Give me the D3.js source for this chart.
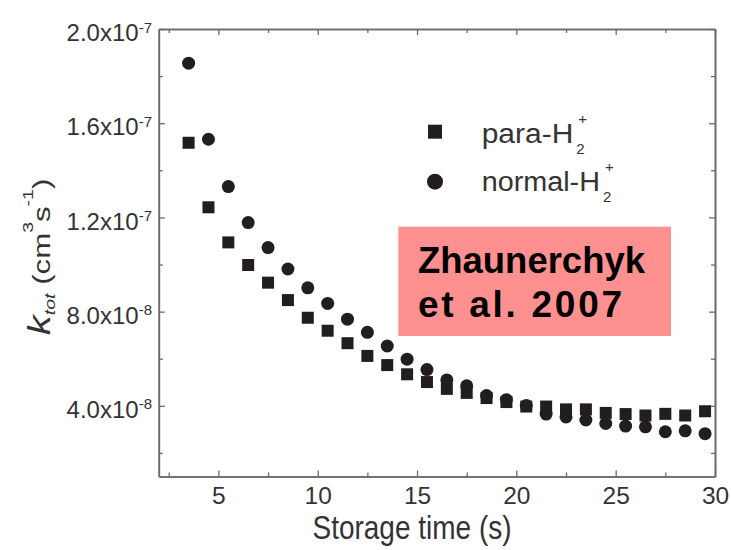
<!DOCTYPE html>
<html>
<head>
<meta charset="utf-8">
<script src="https://cdn.jsdelivr.net/npm/d3@7"></script>
<style>
  html, body { margin: 0; padding: 0; background: #fff; }
  svg { display: block; }
  text { font-family: "Liberation Sans", Arial, Helvetica, sans-serif; }
</style>
</head>
<body>
<svg id="chart" width="731" height="550"></svg>
<script>
// ---- data ----
const storageTime = [3.5, 4.5, 5.5, 6.5, 7.5, 8.5, 9.5, 10.5, 11.5, 12.5, 13.5, 14.5, 15.5, 16.5,
  17.5, 18.5, 19.5, 20.5, 21.5, 22.5, 23.5, 24.5, 25.5, 26.5, 27.5, 28.5, 29.5];
const paraH2 = [1.517e-7, 1.243e-7, 1.094e-7, 9.98e-8, 9.23e-8, 8.49e-8, 7.74e-8, 7.19e-8, 6.66e-8,
  6.12e-8, 5.73e-8, 5.34e-8, 5.01e-8, 4.72e-8, 4.55e-8, 4.33e-8, 4.16e-8, 3.97e-8, 3.97e-8,
  3.85e-8, 3.85e-8, 3.70e-8, 3.65e-8, 3.59e-8, 3.66e-8, 3.59e-8, 3.77e-8];
const normalH2 = [1.855e-7, 1.532e-7, 1.331e-7, 1.178e-7, 1.072e-7, 9.81e-8, 9.01e-8, 8.35e-8, 7.68e-8,
  7.12e-8, 6.54e-8, 5.98e-8, 5.54e-8, 5.10e-8, 4.85e-8, 4.44e-8, 4.26e-8, 4.01e-8, 3.65e-8,
  3.53e-8, 3.40e-8, 3.25e-8, 3.14e-8, 3.11e-8, 2.90e-8, 2.94e-8, 2.82e-8];
const xDomain = [2, 30];
const yDomain = [1e-8, 2e-7];
const xTicks = [5, 10, 15, 20, 25, 30];
const xMinorTicks = [2.5, 7.5, 12.5, 17.5, 22.5, 27.5];
const yTicks = [4e-8, 8e-8, 1.2e-7, 1.6e-7, 2e-7];
const yMinorTicks = [2e-8, 6e-8, 1e-7, 1.4e-7, 1.8e-7];
const legendNames = ["para-H", "normal-H"];
const xTitle = "Storage time (s)";
const noteLines = ["Zhaunerchyk", "et al. 2007"];

// ---- layout ----
const svg = d3.select("#chart");
const L = 158.8, R = 715, T = 29, B = 476.5;
const x = d3.scaleLinear().domain(xDomain).range([L, R]);
const y = d3.scaleLinear().domain(yDomain).range([B, T]);
const axisColor = "#6a6a6a";
const textColor = "#333";
const markColor = "#221e1f";

function styleAxis(g) {
  g.select(".domain").attr("stroke", axisColor).attr("stroke-width", 1.6);
  g.selectAll(".tick line").attr("stroke", axisColor).attr("stroke-width", 1.3);
}

// minor ticks
svg.append("g").attr("transform", `translate(0,${B})`)
  .call(d3.axisBottom(x).tickValues(xMinorTicks).tickSize(-4).tickSizeOuter(0).tickFormat(""))
  .call(styleAxis);
svg.append("g").attr("transform", `translate(0,${T})`)
  .call(d3.axisTop(x).tickValues(xMinorTicks).tickSize(-4).tickSizeOuter(0).tickFormat(""))
  .call(styleAxis);
svg.append("g").attr("transform", `translate(${L},0)`)
  .call(d3.axisLeft(y).tickValues(yMinorTicks).tickSize(-4).tickSizeOuter(0).tickFormat(""))
  .call(styleAxis);
svg.append("g").attr("transform", `translate(${R},0)`)
  .call(d3.axisRight(y).tickValues(yMinorTicks).tickSize(-4).tickSizeOuter(0).tickFormat(""))
  .call(styleAxis);

// major: bottom
const gx = svg.append("g").attr("transform", `translate(0,${B})`)
  .call(d3.axisBottom(x).tickValues(xTicks).tickSize(-6).tickSizeOuter(0).tickPadding(10).tickFormat(d3.format("d")))
  .call(styleAxis);
gx.selectAll(".tick text").attr("font-size", 24.5).attr("fill", textColor)
  .attr("font-family", "Liberation Sans, Arial, sans-serif");
// top
svg.append("g").attr("transform", `translate(0,${T})`)
  .call(d3.axisTop(x).tickValues(xTicks).tickSize(-6).tickSizeOuter(0).tickFormat(""))
  .call(styleAxis);
// left
const gy = svg.append("g").attr("transform", `translate(${L},0)`)
  .call(d3.axisLeft(y).tickValues(yTicks).tickSize(-6).tickSizeOuter(0).tickPadding(6.8))
  .call(styleAxis);
gy.selectAll(".tick text").each(function(d) {
  const e = Math.floor(Math.log10(d) + 1e-9);
  const m = d3.format(".1f")(d / Math.pow(10, e));
  const t = d3.select(this).text(null)
    .attr("font-size", 24).attr("fill", textColor).attr("dy", null)
    .attr("font-family", "Liberation Sans, Arial, sans-serif");
  t.attr("y", 11.7);
  t.append("tspan").text(m + "x10");
  t.append("tspan").attr("font-size", 15).attr("dy", -8.7).text(String(e));
});
// right
svg.append("g").attr("transform", `translate(${R},0)`)
  .call(d3.axisRight(y).tickValues(yTicks).tickSize(-6).tickSizeOuter(0).tickFormat(""))
  .call(styleAxis);

// x title (slightly tall lettering, as in the reference)
svg.append("g").attr("transform", "translate(412,539.3) scale(1,1.2)")
  .append("text").attr("x", 0).attr("y", 0).attr("text-anchor", "middle")
  .attr("font-size", 28).attr("fill", textColor).text(xTitle);

// y title (elongated along its length, as in the reference)
const yt = svg.append("g").attr("transform", "translate(50,257) rotate(-90) scale(1.3,1)")
  .append("text").attr("text-anchor", "middle").attr("font-size", 24).attr("fill", textColor);
yt.append("tspan").attr("font-style", "italic").attr("font-size", 31).text("k");
yt.append("tspan").attr("font-style", "italic").attr("font-size", 15).attr("dy", 4.5).text("tot");
yt.append("tspan").attr("dy", -4.5).text(" (cm");
yt.append("tspan").attr("font-size", 15).attr("dy", -17).text("3");
yt.append("tspan").attr("dy", 17).text("s");
yt.append("tspan").attr("font-size", 15).attr("dy", -17).text("-1");
yt.append("tspan").attr("dy", 17).text(")");

// data
const sq = 12, cr = 6.5;
svg.append("g").selectAll("rect").data(storageTime).join("rect")
  .attr("x", (d) => x(d) - sq / 2)
  .attr("y", (d, i) => y(paraH2[i]) - sq / 2)
  .attr("width", sq).attr("height", sq).attr("fill", markColor);
svg.append("g").selectAll("circle").data(storageTime).join("circle")
  .attr("cx", (d) => x(d))
  .attr("cy", (d, i) => y(normalH2[i]))
  .attr("r", cr).attr("fill", markColor);

// legend
const lg = svg.append("g");
const lx = 435, tx = 481.7;
const rows = [{cy: 131.7, base: 142.7, w: 91.6}, {cy: 181.7, base: 190.5, w: 118.3}];
lg.append("rect").attr("x", lx - 7).attr("y", rows[0].cy - 7).attr("width", 14).attr("height", 14).attr("fill", markColor);
lg.append("circle").attr("cx", lx).attr("cy", rows[1].cy).attr("r", 8).attr("fill", markColor);
legendNames.forEach((name, i) => {
  lg.append("text").attr("x", tx).attr("y", rows[i].base)
    .attr("font-size", 27).attr("fill", textColor)
    .attr("textLength", rows[i].w).attr("lengthAdjust", "spacingAndGlyphs").text(name);
  const w = rows[i].w;
  lg.append("text").attr("x", tx + w + 3).attr("y", rows[i].base + 11)
    .attr("font-size", 15).attr("fill", textColor).text("2");
  lg.append("text").attr("x", tx + w + 5).attr("y", rows[i].base - 18.5)
    .attr("font-size", 15).attr("fill", textColor).text("+");
});

// note box
const nb = svg.append("g");
nb.append("rect").attr("x", 398.3).attr("y", 226.7).attr("width", 272.7).attr("height", 109.3)
  .attr("fill", "#ff9090");
nb.append("text").attr("x", 418).attr("y", 272.7).attr("font-size", 37).attr("font-weight", "bold")
  .attr("fill", "#000").attr("textLength", 227).attr("lengthAdjust", "spacingAndGlyphs").text(noteLines[0]);
nb.append("text").attr("x", 418).attr("y", 316.7).attr("font-size", 37).attr("font-weight", "bold")
  .attr("fill", "#000").attr("textLength", 204).attr("lengthAdjust", "spacing").text(noteLines[1]);
</script>
</body>
</html>
